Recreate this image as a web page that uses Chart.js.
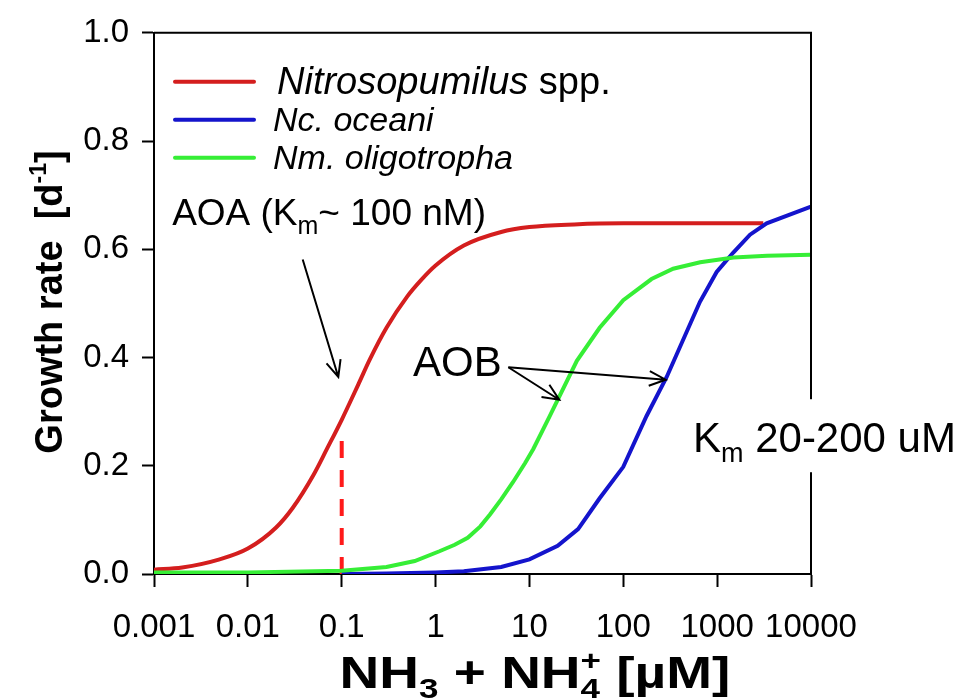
<!DOCTYPE html>
<html><head><meta charset="utf-8">
<script src="https://cdn.jsdelivr.net/npm/chart.js@4.4.1/dist/chart.umd.min.js"></script>
<style>html,body{margin:0;padding:0;background:#fff;} #wrap{width:961px;height:700px;position:relative;}</style>
</head><body><div id="wrap"><canvas id="c"></canvas></div>
<script>
// ---- data ----
const xTickValues = [0.001, 0.01, 0.1, 1, 10, 100, 1000, 10000];
const xTickLabels = ['0.001', '0.01', '0.1', '1', '10', '100', '1000', '10000'];
const yTickValues = [0, 0.2, 0.4, 0.6, 0.8, 1.0];
const yTickLabels = ['0.0', '0.2', '0.4', '0.6', '0.8', '1.0'];

const seriesNames = ['Nitrosopumilus spp.', 'Nc. oceani', 'Nm. oligotropha'];

const nitrosopumilusX = [0.001, 0.002, 0.005, 0.01, 0.02, 0.03, 0.05, 0.07, 0.1, 0.15, 0.2, 0.3, 0.5, 0.7, 1, 2, 5, 10, 30, 100, 3100];
const nitrosopumilusY = [0.008, 0.012, 0.027, 0.047, 0.086, 0.122, 0.183, 0.232, 0.285, 0.35, 0.397, 0.455, 0.513, 0.543, 0.57, 0.607, 0.632, 0.641, 0.646, 0.648, 0.648];

const oceaniX = [0.1, 0.3, 1, 2, 5, 10, 20, 33, 56, 100, 177, 290, 656, 988, 1486, 2240, 3370, 10000];
const oceaniY = [0, 0.001, 0.003, 0.005, 0.013, 0.027, 0.052, 0.083, 0.14, 0.198, 0.292, 0.364, 0.503, 0.558, 0.594, 0.627, 0.648, 0.679];

const oligotrophaX = [0.001, 0.01, 0.1, 0.3, 0.6, 1.1, 1.6, 2.2, 3, 3.8, 5, 6.7, 9, 11, 16.5, 32, 56, 100, 200, 340, 660, 1500, 3400, 10000];
const oligotrophaY = [0.003, 0.003, 0.006, 0.013, 0.024, 0.042, 0.054, 0.067, 0.088, 0.11, 0.138, 0.17, 0.205, 0.231, 0.292, 0.394, 0.455, 0.506, 0.545, 0.564, 0.576, 0.585, 0.588, 0.59];

const kmMarkX = [0.1, 0.1];
const kmMarkY = [0, 0.25];

// annotation anchors in data coordinates
const aoaLabelAt = [0.00156, 0.644];
const aoaArrowFrom = [0.0384, 0.581];
const aoaArrowTo = [0.092, 0.364];
const aobLabelAt = [0.574, 0.365];
const aobArrowFrom = [5.96, 0.382];
const aobArrowTo1 = [20.8, 0.322];
const aobArrowTo2 = [283, 0.359];
const kmLabelAt = [553, 0.225];

// ---- helpers ----
const FAM = '"Liberation Sans", Arial, Helvetica, sans-serif';
const pts = (xs, ys) => xs.map((x, i) => ({ x: x, y: ys[i] }));

function drawRich(ctx, segs, x, y, align, sx) {
  sx = sx || 1;
  const widths = segs.map(s => { ctx.font = s.font; return ctx.measureText(s.t).width; });
  let total = 0;
  segs.forEach((s, i) => { if (!s.stack) total += widths[i]; });
  ctx.save();
  ctx.translate(x, y);
  ctx.scale(sx, 1);
  let cx = align === 'center' ? -total / 2 : 0;
  segs.forEach((s, i) => {
    ctx.font = s.font;
    ctx.fillText(s.t, cx, (s.dy || 0));
    if (!s.stack) cx += widths[i];
  });
  ctx.restore();
  return total * sx;
}

function arrow(ctx, x1, y1, x2, y2) {
  const a = Math.atan2(y2 - y1, x2 - x1), L = 18, w = 0.42;
  ctx.beginPath();
  ctx.moveTo(x1, y1); ctx.lineTo(x2, y2);
  ctx.moveTo(x2 - L * Math.cos(a - w), y2 - L * Math.sin(a - w));
  ctx.lineTo(x2, y2);
  ctx.lineTo(x2 - L * Math.cos(a + w), y2 - L * Math.sin(a + w));
  ctx.stroke();
}

const decorPlugin = {
  id: 'decor',
  afterDatasetsDraw(chart) {
    const ctx = chart.ctx, ca = chart.chartArea;
    const xs = chart.scales.x, ys = chart.scales.y;
    const P = p => [xs.getPixelForValue(p[0]), ys.getPixelForValue(p[1])];
    ctx.save();
    // top + right frame
    ctx.strokeStyle = '#000'; ctx.lineWidth = 2;
    ctx.beginPath();
    ctx.moveTo(ca.left, ca.top); ctx.lineTo(ca.right, ca.top); ctx.lineTo(ca.right, ca.bottom);
    ctx.stroke();

    ctx.fillStyle = '#000';
    ctx.textBaseline = 'alphabetic';
    ctx.textAlign = 'left';
    // AOA label
    let p = P(aoaLabelAt);
    drawRich(ctx, [
      { t: 'AOA (K', font: `37px ${FAM}` },
      { t: 'm', font: `25px ${FAM}`, dy: 9 },
      { t: '~ 100 nM)', font: `37px ${FAM}` }
    ], p[0], p[1], 'left');
    ctx.lineWidth = 2;
    let a = P(aoaArrowFrom), b = P(aoaArrowTo);
    arrow(ctx, a[0], a[1], b[0], b[1]);

    // AOB label
    p = P(aobLabelAt);
    ctx.font = `42px ${FAM}`;
    ctx.fillText('AOB', p[0], p[1]);
    a = P(aobArrowFrom);
    b = P(aobArrowTo1); arrow(ctx, a[0], a[1], b[0], b[1]);
    b = P(aobArrowTo2); arrow(ctx, a[0], a[1], b[0], b[1]);

    // Km label with white background
    p = P(kmLabelAt);
    const segs = [
      { t: 'K', font: `42px ${FAM}` },
      { t: 'm', font: `27px ${FAM}`, dy: 10 },
      { t: ' 20-200 uM', font: `42px ${FAM}` }
    ];
    let w = 0;
    segs.forEach(s => { ctx.font = s.font; w += ctx.measureText(s.t).width; });
    ctx.fillStyle = '#fff';
    ctx.fillRect(p[0] - 4, p[1] - 53, w + 8, 73);
    ctx.fillStyle = '#000';
    drawRich(ctx, segs, p[0], p[1], 'left');
    ctx.restore();
  },
  afterDraw(chart) {
    const ctx = chart.ctx, ca = chart.chartArea;
    ctx.save();
    // legend
    const ds = chart.data.datasets;
    const rows = [
      { i: 0, y: 49, tx: 123, segs: [
        { t: 'Nitrosopumilus', font: `italic 38px ${FAM}` },
        { t: ' spp.', font: `38px ${FAM}` }] },
      { i: 1, y: 87, tx: 119, segs: [{ t: 'Nc. oceani', font: `italic 34px ${FAM}` }] },
      { i: 2, y: 125, tx: 119, segs: [{ t: 'Nm. oligotropha', font: `italic 34px ${FAM}` }] }
    ];
    ctx.lineWidth = 4; ctx.lineCap = 'round';
    ctx.textBaseline = 'middle'; ctx.fillStyle = '#000';
    rows.forEach(r => {
      const y = ca.top + r.y;
      ctx.strokeStyle = ds[r.i].borderColor;
      ctx.beginPath(); ctx.moveTo(ca.left + 21, y); ctx.lineTo(ca.left + 100, y); ctx.stroke();
      drawRich(ctx, r.segs, ca.left + r.tx, y + 2, 'left');
    });

    // y-axis title
    ctx.textBaseline = 'middle';
    ctx.translate(52, 302);
    ctx.rotate(-Math.PI / 2);
    drawRich(ctx, [
      { t: 'Growth rate  [d', font: `bold 38px ${FAM}` },
      { t: '-1', font: `bold 23px ${FAM}`, dy: -12 },
      { t: ']', font: `bold 38px ${FAM}` }
    ], 0, 0, 'center');
    ctx.setTransform(1, 0, 0, 1, 0, 0);

    // x-axis title
    ctx.textBaseline = 'alphabetic';
    drawRich(ctx, [
      { t: 'NH', font: `bold 44px ${FAM}` },
      { t: '3', font: `bold 28px ${FAM}`, dy: 10 },
      { t: ' + NH', font: `bold 44px ${FAM}` },
      { t: '4', font: `bold 28px ${FAM}`, dy: 10, stack: true },
      { t: '+', font: `bold 28px ${FAM}`, dy: -18 },
      { t: ' [\u00b5M]', font: `bold 44px ${FAM}` }
    ], 535, 688, 'center', 1.25);
    ctx.restore();
  }
};

const tickFont = { family: FAM, size: 33 };

new Chart(document.getElementById('c'), {
  type: 'line',
  data: {
    datasets: [
      { label: seriesNames[0], data: pts(nitrosopumilusX, nitrosopumilusY), borderColor: '#d41e1e',
        borderWidth: 4, pointRadius: 0, cubicInterpolationMode: 'monotone', order: 3 },
      { label: seriesNames[1], data: pts(oceaniX, oceaniY), borderColor: '#1414cc',
        borderWidth: 4, pointRadius: 0, tension: 0, order: 2 },
      { label: seriesNames[2], data: pts(oligotrophaX, oligotrophaY), borderColor: '#36ee36',
        borderWidth: 4, pointRadius: 0, tension: 0, order: 1 },
      { label: 'Km', data: pts(kmMarkX, kmMarkY), borderColor: '#ff1a1a', borderWidth: 4,
        borderDash: [17, 12], pointRadius: 0, order: 4 }
    ]
  },
  options: {
    responsive: true, maintainAspectRatio: false, animation: false,
    devicePixelRatio: 1,
    layout: { padding: { left: 0, right: 150, top: 23, bottom: 0 } },
    plugins: { legend: { display: false }, tooltip: { enabled: false } },
    scales: {
      x: {
        type: 'logarithmic', min: 0.001, max: 10000, position: 'bottom',
        grid: { drawOnChartArea: false, drawTicks: true, tickLength: 13, tickWidth: 2, tickColor: '#000' },
        border: { display: true, color: '#000', width: 2 },
        ticks: { font: tickFont, color: '#000', padding: 21, autoSkip: false, maxRotation: 0,
          callback: (v) => { const i = xTickValues.indexOf(v); return i >= 0 ? xTickLabels[i] : ''; } },
        afterBuildTicks: (s) => { s.ticks = xTickValues.map(v => ({ value: v })); },
        afterFit: (s) => { s.height = 126; }
      },
      y: {
        min: 0, max: 1,
        grid: { drawOnChartArea: false, drawTicks: true, tickLength: 12, tickWidth: 2, tickColor: '#000' },
        border: { display: true, color: '#000', width: 2 },
        ticks: { font: tickFont, color: '#000', padding: 13,
          callback: (v) => { const i = yTickValues.findIndex(t => Math.abs(t - v) < 1e-9); return i >= 0 ? yTickLabels[i] : ''; } },
        afterBuildTicks: (s) => { s.ticks = yTickValues.map(v => ({ value: v })); },
        afterFit: (s) => { s.width = 154; }
      }
    }
  },
  plugins: [decorPlugin]
});
</script>
</body></html>
